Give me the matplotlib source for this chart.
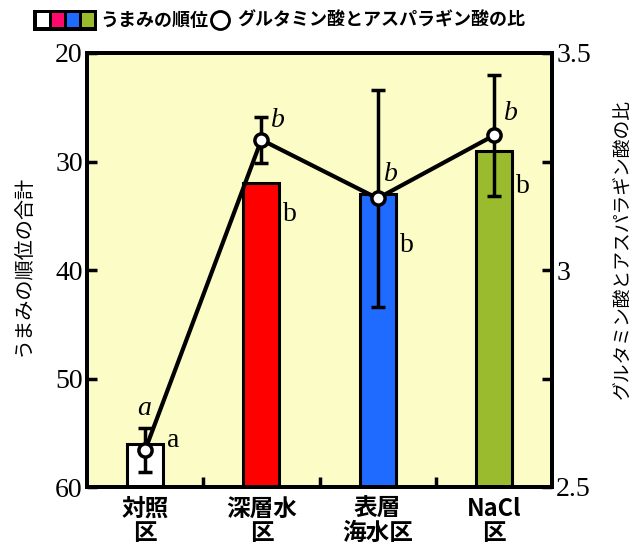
import matplotlib
matplotlib.use('Agg')
import matplotlib.pyplot as plt
from matplotlib.patches import Rectangle
from matplotlib.lines import Line2D

plt.rcParams['font.family'] = ['Noto Sans CJK JP', 'DejaVu Sans']

categories = ['対照\n区', '深層水\n区', '表層\n海水区', 'NaCl\n区']
rank_sum = [56, 32, 33, 29]                 # うまみの順位の合計
ratio = [2.585, 3.30, 3.165, 3.31]          # グルタミン酸とアスパラギン酸の比
ratio_err = [0.05, 0.053, 0.25, 0.14]
bar_colors = ['white', '#ff0000', '#1f6bff', '#9bbb2f']
bar_letters = ['a', 'b', 'b', 'b']
line_letters = ['a', 'b', 'b', 'b']

# where the significance letters sit relative to their marks
bar_letter_dy = [-0.3, 2.9, 4.7, 3.3]
line_letter_dx = [-0.01, 0.14, 0.11, 0.15]
line_letter_dy = [0.095, 0.045, 0.055, 0.05]

serif = 'Liberation Serif'
bg = '#fcfcc6'

fig = plt.figure(figsize=(6.42, 5.52), dpi=100)
ax = fig.add_axes([87 / 642, 1 - 487 / 552, 465 / 642, 434 / 552])
ax.set_facecolor(bg)

x = range(len(categories))
ax.bar(x, [v - 60 for v in rank_sum], bottom=60, width=0.31,
       color=bar_colors, edgecolor='black', linewidth=2.2, zorder=2)
ax.set_ylim(60, 20)
ax.set_xlim(-0.5, 3.5)
ax.set_yticks([20, 30, 40, 50, 60])
ax.set_yticklabels(['20', '30', '40', '50', '60'], fontfamily=serif, fontsize=20)
ax.set_xticks([0.5, 1.5, 2.5])
ax.set_xticklabels([])
ax.tick_params(axis='x', direction='in', length=7, width=2.5)
ax.tick_params(axis='y', direction='in', length=7, width=2.5, pad=3)
for xi, c in zip(x, categories):
    ax.text(xi, 60.9, c, ha='center', va='top', fontsize=17, fontweight='bold',
            linespacing=1.0)
for s in ax.spines.values():
    s.set_linewidth(2.8)
for xi, v, t, dy in zip(x, rank_sum, bar_letters, bar_letter_dy):
    ax.text(xi + 0.19, v + dy, t, fontfamily=serif, fontsize=20,
            ha='left', va='center')
ax.set_ylabel('うまみの順位の合計', fontsize=14.5)
ax.yaxis.set_label_coords(-0.114, 0.51)

ax2 = ax.twinx()
ax2.set_ylim(2.5, 3.5)
ax2.set_yticks([2.5, 2.75, 3.0, 3.25, 3.5])
ax2.set_yticklabels(['2.5', '', '3', '', '3.5'], fontfamily=serif, fontsize=20)
ax2.tick_params(axis='y', direction='in', length=7, width=2.5, pad=3)
ax2.errorbar(x, ratio, yerr=ratio_err, color='black', linewidth=3, capsize=5,
             capthick=3, elinewidth=2.5, marker='o', markersize=9.5,
             markerfacecolor='white', markeredgecolor='black',
             markeredgewidth=2.5, zorder=3)
for xi, v, t, dx, dy in zip(x, ratio, line_letters, line_letter_dx, line_letter_dy):
    ax2.text(xi + dx, v + dy, t, fontfamily=serif, fontstyle='italic',
             fontsize=20, ha='center', va='center')
ax2.set_ylabel('グルタミン酸とアスパラギン酸の比', fontsize=13.5, rotation=90)
ax2.yaxis.set_label_coords(1.131, 0.548)
for s in ax2.spines.values():
    s.set_linewidth(2.8)

# header legend
sq_colors = ['white', '#ff0a6c', '#1f6bff', '#9bbb2f']
fw, fh = 642, 552
fig.patches.append(Rectangle((33 / fw, 1 - 31 / fh), 64 / fw, 21 / fh,
                             transform=fig.transFigure, facecolor='black',
                             edgecolor='black', linewidth=0))
for i, c in enumerate(sq_colors):
    fig.patches.append(Rectangle(((37 + i * 15) / fw, 1 - 27 / fh), 12 / fw, 14 / fh,
                                 transform=fig.transFigure, facecolor=c,
                                 edgecolor='none'))
fig.text(100 / fw, 1 - 20 / fh, 'うまみの順位', fontsize=13, fontweight='bold',
         va='center', ha='left')
fig.lines.append(Line2D([220 / fw], [1 - 20 / fh], transform=fig.transFigure,
                        marker='o', markersize=13, markerfacecolor='white',
                        markeredgecolor='black', markeredgewidth=2))
fig.text(237 / fw, 1 - 20 / fh, 'グルタミン酸とアスパラギン酸の比', fontsize=13,
         fontweight='bold', va='center', ha='left')

fig.savefig('out.png', dpi=100)
